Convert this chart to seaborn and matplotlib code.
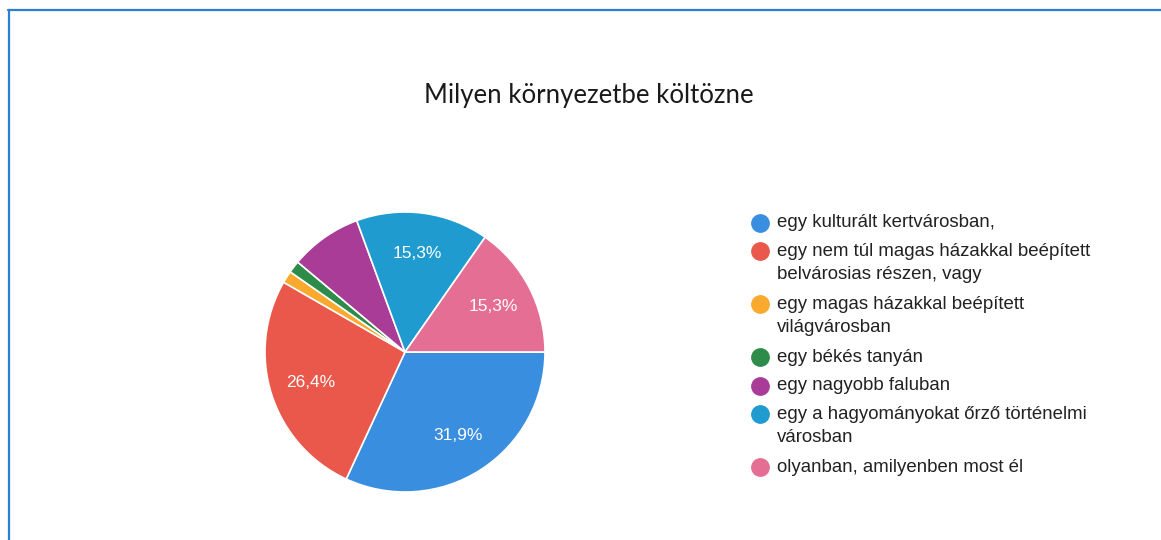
import matplotlib
matplotlib.use("Agg")
import matplotlib.pyplot as plt
import seaborn as sns
from matplotlib.lines import Line2D

# Data
categories = [
    "egy kulturált kertvárosban,",
    "egy nem túl magas házakkal beépített\nbelvárosias részen, vagy",
    "egy magas házakkal beépített\nvilágvárosban",
    "egy békés tanyán",
    "egy nagyobb faluban",
    "egy a hagyományokat őrző történelmi\nvárosban",
    "olyanban, amilyenben most él",
]
shares = [31.9, 26.4, 1.4, 1.4, 8.3, 15.3, 15.3]
colors = ["#3a8ee0", "#e9584a", "#f8a92e", "#2e8c4a", "#a93c97", "#1f9bd0", "#e56e94"]
title = "Milyen környezetbe költözne"

W, H = 1161, 540

sns.set_theme(style="white")
plt.rcParams["font.family"] = ["Liberation Sans", "DejaVu Sans"]

fig = plt.figure(figsize=(W / 100, H / 100), dpi=100)
fig.patch.set_facecolor("white")

# Pie
cx, cy, r = 405, 352, 140
ax = fig.add_axes([(cx - r) / W, (H - cy - r) / H, 2 * r / W, 2 * r / H])


def pct_label(p):
    if p < 10:
        return ""
    return f"{p:.1f}".replace(".", ",") + "%"


wedges, texts, autotexts = ax.pie(
    shares,
    colors=colors,
    startangle=0,
    counterclock=False,
    autopct=pct_label,
    pctdistance=0.71,
    wedgeprops=dict(edgecolor="white", linewidth=1.2),
    textprops=dict(color="white", fontsize=12.5),
)
ax.set_xlim(-1, 1)
ax.set_ylim(-1, 1)
ax.set_aspect("equal")
ax.axis("off")

# Title
fig.text(589 / W, 1 - 95 / H, title, ha="center", va="center",
         fontsize=18.5, family=["Lato", "DejaVu Sans"], color="#1a1a1a")

# Legend (Google style: marker beside first line)
y = 222.7
for label, color in zip(categories, colors):
    lines = label.split("\n")
    fig.add_artist(Line2D([760 / W], [1 - y / H], marker="o", markersize=12.5,
                          color=color, linestyle="none", transform=fig.transFigure))
    for i, line in enumerate(lines):
        fig.text(777 / W, 1 - (y + i * 23.5) / H, line, ha="left", va="center",
                 fontsize=13.4, color="#222222")
    y += 28.5 + 24.5 * (len(lines) - 1)

# Frame lines (top and left)
frame_color = "#2a7fd4"
fig.add_artist(Line2D([8 / W, 1], [1 - 10 / H, 1 - 10 / H], color=frame_color,
                      linewidth=1.6, transform=fig.transFigure))
fig.add_artist(Line2D([9 / W, 9 / W], [0, 1 - 10 / H], color=frame_color,
                      linewidth=1.6, transform=fig.transFigure))

fig.savefig("out.png", dpi=100)
